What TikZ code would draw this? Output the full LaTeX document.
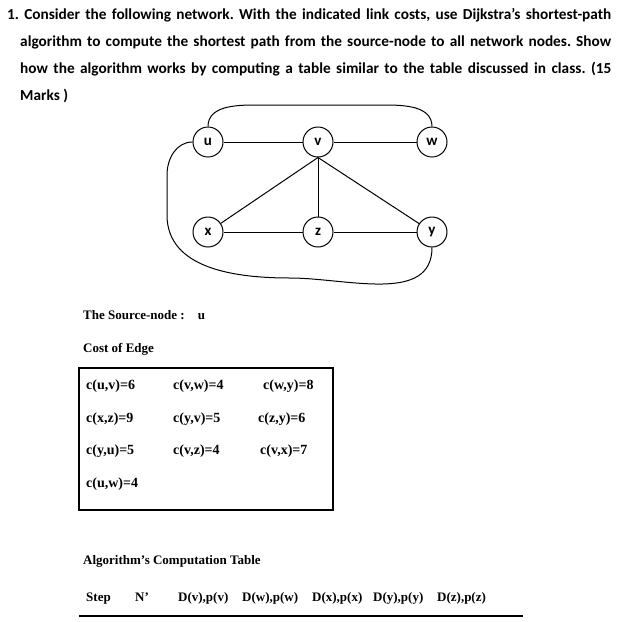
\documentclass[tikz,border=0pt]{standalone}
\usepackage{fontspec}
\setmainfont{Liberation Serif}
\newfontfamily\headfont{Carlito}
\frenchspacing

\begin{document}
\begin{tikzpicture}[x=1pt,y=-1pt,
  vertex/.style={circle,draw,line width=1pt,minimum size=30pt,inner sep=0pt,font=\headfont\bfseries\fontsize{15}{17}\selectfont},
  link/.style={line width=1pt},
  taskline/.style={anchor=base west,inner sep=0pt,font=\headfont\bfseries\fontsize{15.3}{17}\selectfont},
  label/.style={anchor=base west,inner sep=0pt,font=\bfseries\fontsize{13}{15}\selectfont},
  cost/.style={anchor=base west,inner sep=0pt,font=\bfseries\fontsize{14}{16}\selectfont}]
  \useasboundingbox (0,0) rectangle (617,622);

  % the question
  \node[taskline] (q1) at (7,19) {\makebox[604pt][s]{1. Consider the following network. With the indicated link costs, use Dijkstra’s shortest-path}};
  \node[taskline] (q2) at (20,46) {\makebox[591pt][s]{algorithm to compute the shortest path from the source-node to all network nodes. Show}};
  \node[taskline] (q3) at (20,73) {\makebox[591pt][s]{how the algorithm works by computing a table similar to the table discussed in class. (15}};
  \node[taskline] (q4) at (20,100) {Marks )};

  % the network
  \node[vertex] (u) at (208,142) {u};
  \node[vertex] (v) at (318,142) {v};
  \node[vertex] (w) at (432,142) {w};
  \node[vertex] (x) at (208,232) {x};
  \node[vertex] (z) at (318,232) {z};
  \node[vertex] (y) at (432,232) {y};

  \draw[link] (u) -- (v);
  \draw[link] (v) -- (w);
  \draw[link] (x) -- (z);
  \draw[link] (z) -- (y);
  \draw[link] (v) -- (z);
  \draw[link] (v.south) -- (x);
  \draw[link] (v.south) -- (y);
  \draw[link] (u.north) to[out=90,in=180] (255,105) -- (385,105) to[out=0,in=90] (w.north);
  \draw[link] (u.west) to[out=180,in=90] (167,175) -- (167,215) to[out=-90,in=180] (290,278) to[out=0,in=-90] (y.south);

  % source and edge costs
  \node[label] (src) at (83,319) {The Source-node :\quad u};
  \node[label] (coh) at (83,352) {Cost of Edge};
  \draw[line width=1.2pt] (79,368) rectangle (333,510);

  \node[cost] (uv) at (86,389) {c(u,v)=6};
  \node[cost] (vw) at (173,389) {c(v,w)=4};
  \node[cost] (wy) at (263,389) {c(w,y)=8};
  \node[cost] (xz) at (86,422) {c(x,z)=9};
  \node[cost] (yv) at (173,422) {c(y,v)=5};
  \node[cost] (zy) at (258,422) {c(z,y)=6};
  \node[cost] (yu) at (86,454) {c(y,u)=5};
  \node[cost] (vz) at (173,454) {c(v,z)=4};
  \node[cost] (vx) at (260,454) {c(v,x)=7};
  \node[cost] (uw) at (86,487) {c(u,w)=4};

  % computation table
  \node[label] (tab) at (83,564) {Algorithm’s Computation Table};
  \node[label] (step) at (86,601) {Step};
  \node[label] (np) at (135,601) {N'};
  \node[label] (dv) at (178,601) {D(v),p(v)};
  \node[label] (dw) at (242,601) {D(w),p(w)};
  \node[label] (dx) at (312,601) {D(x),p(x)};
  \node[label] (dy) at (373,601) {D(y),p(y)};
  \node[label] (dz) at (437,601) {D(z),p(z)};
  \draw[line width=1.8pt] (79,616) -- (523,616);
\end{tikzpicture}
\end{document}
